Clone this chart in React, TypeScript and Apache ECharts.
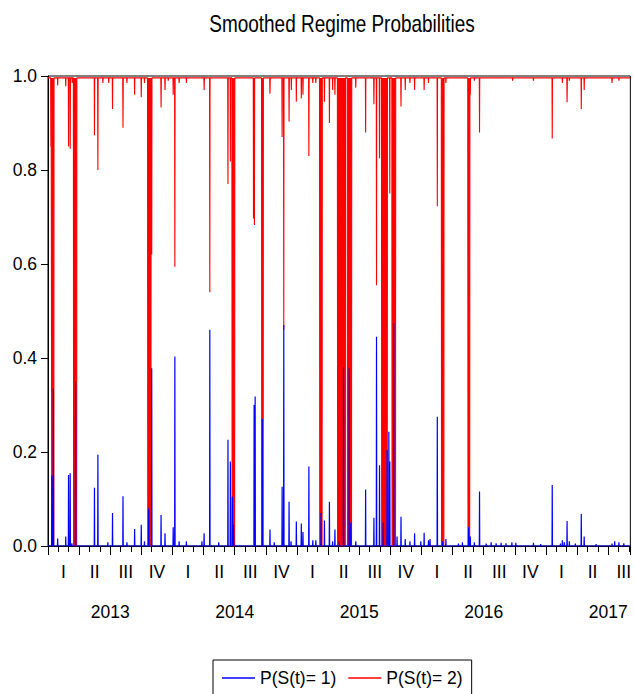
import React, { useEffect, useRef } from "react";
import * as echarts from "echarts";

// ---------- data (x positions are months since the start of January 2013) ----------
const TITLE = "Smoothed Regime Probabilities";
const SERIES_NAMES = ["P(S(t)= 1)", "P(S(t)= 2)"];
const QUARTER_LABELS = ["I", "II", "III", "IV"];
const YEAR_LABELS = ["2013", "2014", "2015", "2016", "2017"];
const X_MAX_MONTHS = 56.14; // right edge of the visible plot (≈ Sep 2017)

// P(S(t)=1): spikes above the ~0 baseline
const blueSpikeMonth = [
  0.37, 0.52, 0.93, 1.71, 1.98, 2.14, 2.3, 2.66, 4.48, 4.81, 5.77, 6.22, 7.23, 7.61, 8.35,
  8.99, 9.3, 9.71, 10.0, 10.9, 11.28, 12.07, 12.23, 12.64, 13.34, 14.84, 15.05, 15.6, 16.46,
  17.35, 17.58, 17.77, 17.88, 19.87, 19.97, 20.66, 21.4, 21.81, 22.57, 22.73, 23.24, 23.43,
  23.94, 24.42, 24.58, 25.15, 25.53, 25.82, 26.32, 26.65, 27.13, 27.44, 27.66, 28.08, 28.49,
  29.04, 29.19, 29.67, 30.62, 31.42, 31.67, 31.96, 32.31, 32.69, 32.86, 32.95, 33.33, 33.65,
  34.03, 34.44, 34.89, 35.34, 35.94, 36.26, 36.68, 36.83, 37.53, 38.04, 38.36, 39.57, 39.95,
  40.55, 40.71, 41.1, 41.6, 42.24, 42.72, 43.2, 43.68, 44.15, 44.72, 45.1, 46.8, 47.5, 48.61,
  49.4, 49.59, 49.78, 50.04, 50.26, 50.84, 51.41, 51.69, 52.84, 54.37, 54.63, 55.04, 55.51,
];
const blueSpikeProb = [
  0.15, 0.335, 0.016, 0.02, 0.151, 0.155, 0.006, 0.35, 0.124, 0.194, 0.008, 0.07, 0.106, 0.008, 0.036,
  0.045, 0.01, 0.08, 0.378, 0.066, 0.027, 0.04, 0.403, 0.01, 0.01, 0.01, 0.027, 0.46, 0.008,
  0.226, 0.18, 0.105, 0.045, 0.3, 0.318, 0.27, 0.035, 0.008, 0.126, 0.47, 0.094, 0.01,
  0.052, 0.048, 0.03, 0.169, 0.012, 0.012, 0.07, 0.054, 0.094, 0.01, 0.035, 0.01, 0.38,
  0.378, 0.05, 0.01, 0.12, 0.06, 0.445, 0.172, 0.05, 0.204, 0.243, 0.18, 0.474, 0.02,
  0.062, 0.015, 0.01, 0.027, 0.01, 0.028, 0.012, 0.015, 0.275, 0.01, 0.015, 0.005, 0.008,
  0.04, 0.02, 0.008, 0.116, 0.005, 0.008, 0.006, 0.007, 0.006, 0.008, 0.007, 0.007, 0.004, 0.13,
  0.005, 0.012, 0.008, 0.053, 0.01, 0.005, 0.068, 0.02, 0.004, 0.005, 0.01, 0.008, 0.006,
];

// P(S(t)=2): dips below the ~1 baseline
const redDipMonth = [
  0.28, 0.93, 1.71, 1.98, 2.14, 2.33, 4.48, 4.81, 5.29, 5.86, 6.22, 7.23, 7.61, 8.35, 8.99,
  9.3, 10.0, 10.9, 11.28, 11.59, 12.07, 12.23, 12.64, 13.34, 15.05, 15.6, 17.35, 17.58, 19.81,
  19.9, 21.4, 22.57, 22.73, 23.24, 23.46, 23.94, 24.42, 24.58, 25.15, 25.53, 25.82, 26.65,
  27.13, 27.44, 27.66, 29.67, 30.62, 31.42, 31.67, 31.96, 32.95, 34.03, 34.44, 34.89, 35.34,
  36.26, 36.68, 37.53, 38.36, 40.71, 41.1, 41.6, 44.79, 46.8, 48.61, 49.59, 50.04, 50.26,
  51.41, 51.69, 54.37, 55.04,
];
const redDipProb = [
  0.85, 0.98, 0.978, 0.85, 0.845, 0.985, 0.874, 0.8, 0.985, 0.985, 0.93, 0.89, 0.985, 0.96, 0.955,
  0.985, 0.62, 0.933, 0.97, 0.99, 0.96, 0.594, 0.985, 0.985, 0.97, 0.54, 0.77, 0.818, 0.697,
  0.683, 0.962, 0.87, 0.46, 0.903, 0.97, 0.945, 0.952, 0.96, 0.83, 0.985, 0.985, 0.945,
  0.9, 0.97, 0.96, 0.975, 0.88, 0.94, 0.555, 0.825, 0.75, 0.935, 0.97, 0.985, 0.97,
  0.97, 0.985, 0.723, 0.985, 0.96, 0.99, 0.88, 0.99, 0.99, 0.867, 0.985, 0.944, 0.99,
  0.93, 0.97, 0.985, 0.99,
];

// spells where P(S(t)=2) collapses to ~0
const regime1Start = [0.37, 2.47, 9.62, 17.75, 20.61, 26.2, 27.92, 28.35, 28.87, 32.17, 33.17, 37.94, 40.49];
const regime1End = [0.56, 2.76, 9.92, 17.99, 20.74, 26.42, 28.24, 28.66, 29.26, 32.7, 33.5, 38.16, 40.65];

const BLUE_BASE = 0;
const RED_BASE = 0.996;
const HALF_DAY = 0.022;

function buildLine(
  spikeM: number[],
  spikeV: number[],
  base: number,
  spellS: number[],
  spellE: number[],
  spellV: number
): [number, number][] {
  const pts: [number, number][] = [];
  spikeM.forEach((m, i) => {
    pts.push([m - HALF_DAY, base], [m, spikeV[i]], [m + HALF_DAY, base]);
  });
  spellS.forEach((s, i) => {
    const e = spellE[i];
    pts.push([s - HALF_DAY, base], [s, spellV], [e, spellV], [e + HALF_DAY, base]);
  });
  pts.sort((a, b) => a[0] - b[0]);
  return [[0, base], ...pts, [X_MAX_MONTHS, base]];
}

const FONT = "'Liberation Sans', Arial, sans-serif";
const LABEL_SIZE = 17.5;

export default function App() {
  const ref = useRef<HTMLDivElement>(null);

  useEffect(() => {
    if (!ref.current) return;
    const chart = echarts.init(ref.current, undefined, { renderer: "svg" });

    const blueData = buildLine(blueSpikeMonth, blueSpikeProb, BLUE_BASE, [], [], 0);
    const redData = buildLine(redDipMonth, redDipProb, RED_BASE, regime1Start, regime1End, 0);

    const near = (v: number, step: number, offset: number) => {
      const q = (v - offset) / step;
      const r = Math.round(q);
      return Math.abs(q - r) < 1e-6 && r >= 0 ? r : -1;
    };

    const baseX = {
      type: "value" as const,
      min: 0,
      max: X_MAX_MONTHS,
      position: "bottom" as const,
      splitLine: { show: false },
    };

    chart.setOption({
      animation: false,
      backgroundColor: "#ffffff",
      graphic: [
        {
          type: "text",
          x: 342,
          y: 24,
          scaleX: 0.79,
          style: {
            text: TITLE,
            fontFamily: FONT,
            fontSize: 24,
            fill: "#000",
            textAlign: "center",
            textVerticalAlign: "middle",
          },
        },
      ],
      legend: {
        data: SERIES_NAMES,
        left: 213,
        top: 660,
        orient: "horizontal",
        padding: [9, 9, 9, 9],
        itemGap: 12,
        itemWidth: 33,
        itemHeight: 1.3,
        icon: "rect",
        borderColor: "#000",
        borderWidth: 1,
        textStyle: { fontFamily: FONT, fontSize: LABEL_SIZE, color: "#000" },
      },
      grid: {
        left: 48,
        right: -2,
        top: 76,
        bottom: 148,
        show: true,
        borderColor: "#000",
        borderWidth: 1,
        backgroundColor: "transparent",
      },
      xAxis: [
        {
          ...baseX,
          interval: 1,
          axisLine: { show: true, lineStyle: { color: "#000", width: 1 } },
          axisTick: { show: true, length: 6, lineStyle: { color: "#000" } },
          axisLabel: { show: false },
        },
        {
          ...baseX,
          interval: 3,
          axisLine: { show: false },
          axisTick: { show: true, length: 9, lineStyle: { color: "#000" } },
          axisLabel: { show: false },
        },
        {
          ...baseX,
          interval: 1.5,
          axisLine: { show: false },
          axisTick: { show: false },
          axisLabel: {
            show: true,
            margin: 17,
            fontFamily: FONT,
            fontSize: LABEL_SIZE,
            color: "#000",
            formatter: (v: number) => {
              const r = near(v, 3, 1.5);
              return r < 0 ? "" : QUARTER_LABELS[r % 4];
            },
          },
        },
        {
          ...baseX,
          interval: 6,
          axisLine: { show: false },
          axisTick: { show: false },
          axisLabel: {
            show: true,
            margin: 57,
            fontFamily: FONT,
            fontSize: LABEL_SIZE,
            color: "#000",
            formatter: (v: number) => {
              const r = near(v, 12, 6);
              return r < 0 || r >= YEAR_LABELS.length ? "" : YEAR_LABELS[r];
            },
          },
        },
      ],
      yAxis: {
        type: "value",
        min: 0,
        max: 1,
        interval: 0.2,
        axisLine: { show: true, lineStyle: { color: "#000" } },
        axisTick: { show: true, length: 7, lineStyle: { color: "#000" } },
        splitLine: { show: false },
        axisLabel: {
          margin: 11,
          fontFamily: FONT,
          fontSize: LABEL_SIZE,
          color: "#000",
          formatter: (v: number) => v.toFixed(1),
        },
      },
      series: [
        {
          name: SERIES_NAMES[1],
          type: "line",
          xAxisIndex: 0,
          data: redData,
          showSymbol: false,
          symbol: "none",
          lineStyle: { color: "#ff0000", width: 1.1 },
          itemStyle: { color: "#ff0000" },
          areaStyle: { origin: RED_BASE, color: "#ff0000", opacity: 1 },
          z: 2,
        },
        {
          name: SERIES_NAMES[0],
          type: "line",
          xAxisIndex: 0,
          data: blueData,
          showSymbol: false,
          symbol: "none",
          lineStyle: { color: "#0000ff", width: 1.2 },
          itemStyle: { color: "#0000ff" },
          z: 3,
        },
      ],
    });

    return () => chart.dispose();
  }, []);

  return (
    <div
      ref={ref}
      style={{ position: "absolute", left: 0, top: 0, width: 634, height: 694, background: "#fff" }}
    />
  );
}
